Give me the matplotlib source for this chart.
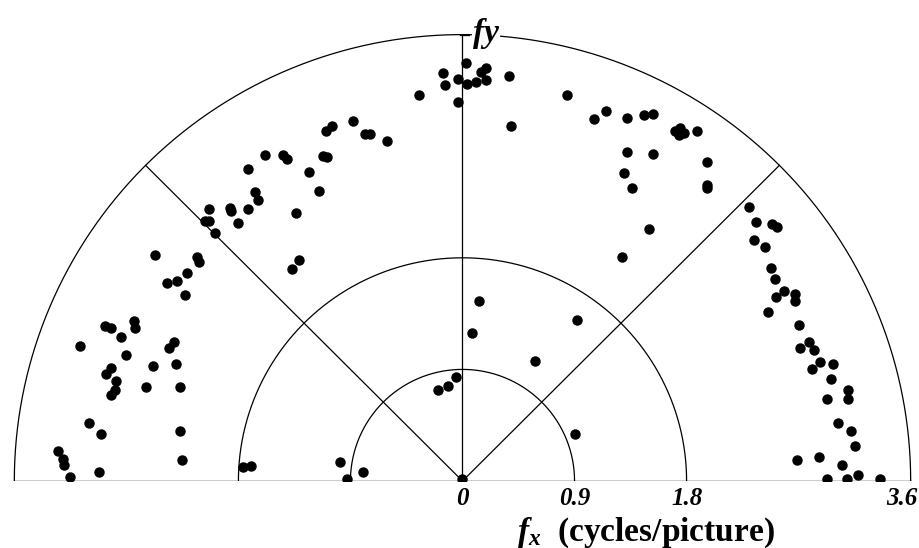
"""Polar half-plane plot of spatial frequency samples (fx, fy)."""

from __future__ import annotations

import matplotlib
matplotlib.use("Agg")
import matplotlib.pyplot as plt
import numpy as np

# spatial frequency samples, cycles/picture
fx = [
    -0.16, -0.04, -0.14, -0.04, -0.35, -1.10, -1.05, -0.88, -0.78, -0.74,
    -0.61, -1.59, -1.44, -1.41, -1.12, -1.09, -1.72, -1.23, -1.15, -1.67,
    -1.64, -2.04, -1.87, -1.86, -1.72, -2.07, -2.04, -1.80, -1.99, -1.34,
    -2.47, -2.13, -2.12, -2.21, -1.31, -1.37, -2.37, -2.29, -2.23, -2.87,
    -2.82, -2.64, -2.63, -2.74, -3.07, -2.70, -2.36, -2.32, -2.82, -2.86,
    -2.78, -2.79, -2.82, -2.49, -2.30, -2.54, -2.27, -3.00, -2.90, -2.27,
    -2.25, -3.25, -3.21, -3.20, -3.15, -2.92, -1.76, -1.70, -0.98, -0.93,
    -0.80, -0.05, -0.12, -0.20, 0.00, 0.03, 0.04, 0.11, 0.15, 0.19,
    0.19, 0.37, 0.39, 0.84, 1.06, 1.15, 1.32, 1.46, 1.53, 1.71,
    1.75, 1.78, 1.74, 1.88, 1.32, 1.53, 1.96, 1.30, 1.96, 1.96,
    1.36, 1.50, 1.28, 2.30, 2.36, 2.49, 2.53, 2.34, 2.43, 2.48,
    2.51, 2.58, 2.52, 2.67, 2.67, 2.45, 2.70, 2.78, 2.82, 2.71,
    2.87, 2.98, 2.81, 2.96, 3.10, 3.10, 2.93, 3.02, 3.12, 3.15,
    2.69, 2.86, 3.05, 3.18, 2.93, 3.09, 3.35, 0.13, 0.08, 0.92,
    0.58, 0.90,
]
fy = [
    3.29, 3.24, 3.19, 3.06, 3.11, 2.82, 2.86, 2.90, 2.80, 2.80,
    2.74, 2.63, 2.63, 2.60, 2.62, 2.61, 2.52, 2.49, 2.34, 2.33,
    2.27, 2.19, 2.20, 2.18, 2.19, 2.10, 2.10, 2.08, 2.00, 2.16,
    1.82, 1.81, 1.77, 1.68, 1.78, 1.71, 1.60, 1.61, 1.50, 1.25,
    1.23, 1.29, 1.23, 1.16, 1.09, 1.02, 1.07, 1.12, 0.91, 0.86,
    0.81, 0.73, 0.69, 0.93, 0.94, 0.76, 0.76, 0.47, 0.38, 0.40,
    0.17, 0.24, 0.18, 0.13, 0.03, 0.07, 0.11, 0.12, 0.15, 0.02,
    0.07, 0.84, 0.77, 0.73, 0.02, 3.37, 3.20, 3.22, 3.30, 3.33,
    3.23, 3.27, 2.86, 3.11, 2.92, 2.98, 2.93, 2.95, 2.96, 2.82,
    2.85, 2.81, 2.79, 2.82, 2.65, 2.64, 2.57, 2.48, 2.39, 2.36,
    2.36, 2.03, 1.81, 2.21, 2.09, 2.07, 2.05, 1.94, 1.89, 1.72,
    1.63, 1.53, 1.48, 1.51, 1.45, 1.36, 1.26, 1.12, 1.06, 1.07,
    0.96, 0.94, 0.90, 0.82, 0.73, 0.66, 0.66, 0.47, 0.40, 0.28,
    0.17, 0.19, 0.13, 0.05, 0.02, 0.02, 0.02, 1.45, 1.19, 1.30,
    0.97, 0.38,
]

ring_radii = [0.9, 1.8, 3.6]
spoke_angles = [45, 90, 135]
tick_values = [0, 0.9, 1.8, 3.6]
tick_labels = ["0", "0.9", "1.8", "3.6"]
f_max = 3.6


def draw_frame(ax) -> None:
    theta = np.linspace(0, np.pi, 400)
    for r in ring_radii:
        ax.plot(r * np.cos(theta), r * np.sin(theta), color="black", lw=0.9, zorder=1)
    for a in spoke_angles:
        t = np.deg2rad(a)
        ax.plot([0, f_max * np.cos(t)], [0, f_max * np.sin(t)], color="black", lw=0.9, zorder=1)
    ax.plot([-f_max, f_max], [0, 0], color="black", lw=1.0, zorder=1)
    ax.plot([-0.02, 0.05], [f_max, f_max], color="black", lw=0.9, zorder=1)


def main() -> None:
    plt.rcParams["mathtext.fontset"] = "custom"
    plt.rcParams["mathtext.rm"] = "Liberation Serif:bold"
    plt.rcParams["mathtext.it"] = "Liberation Serif:italic:bold"

    fig = plt.figure(figsize=(9.19, 5.48), dpi=100)
    ax = fig.add_axes([8.1 / 919, 67 / 548, 908.8 / 919, 465 / 548])
    ax.set_xlim(-3.65, 3.65)
    ax.set_ylim(0, 3.75)
    ax.axis("off")

    draw_frame(ax)
    ax.plot(fx, fy, "o", color="black", markersize=6.5, zorder=3, clip_on=True)

    serif = dict(family="Liberation Serif", weight="bold", style="italic")
    for v, lab in zip(tick_values, tick_labels):
        x = v - 0.07 if v == f_max else v
        ax.text(x, -0.145, lab, ha="center", va="center", fontsize=18, clip_on=False, **serif)

    ax.text(0.19, 3.61, "fy", ha="center", va="center", fontsize=24, clip_on=False,
            bbox=dict(facecolor="white", edgecolor="none", pad=1.0), zorder=4, **serif)
    ax.text(1.47, -0.48, r"$f_x$  (cycles/picture)", ha="center", va="baseline", fontsize=24,
            family="Liberation Serif", weight="bold", clip_on=False)

    fig.savefig("out.png", dpi=100)
    plt.close(fig)


if __name__ == "__main__":
    main()
